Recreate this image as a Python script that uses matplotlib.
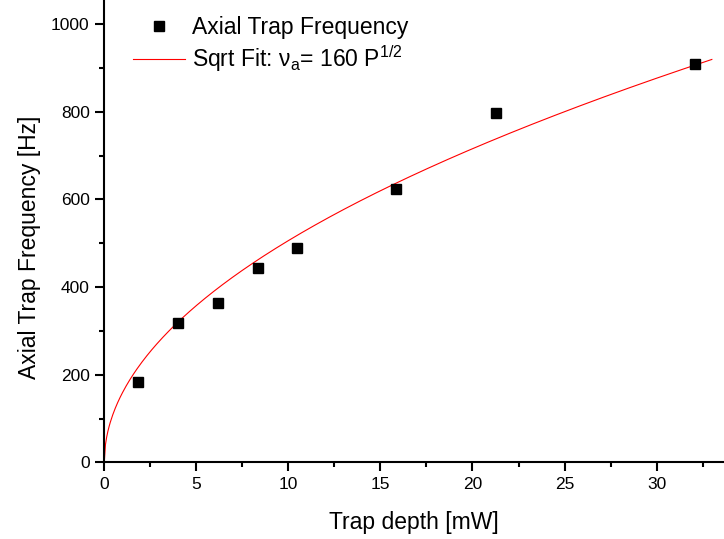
import numpy as np
import matplotlib
matplotlib.use("Agg")
import matplotlib.pyplot as plt
from matplotlib.ticker import MultipleLocator

plt.rcParams['font.family'] = ['Liberation Sans', 'DejaVu Sans']

# measured points
depth_mw = [1.83, 3.99, 6.16, 8.33, 10.47, 15.86, 21.26, 32.07]
freq_hz = [184, 319, 364, 443, 488, 624, 796, 909]

# sqrt fit nu_a = a * P^(1/2)
fit_coef = 160
fit_max_p = 33.0

fig = plt.figure(figsize=(7.24, 5.39), dpi=100)
ax = fig.add_axes([0.144, 0.142, 0.856, 0.858])

p = np.linspace(0, fit_max_p, 500)
ax.plot(p, fit_coef * np.sqrt(p), color='red', lw=0.8,
        label='Sqrt Fit: ν$_\\mathregular{a}$= 160 P$^\\mathregular{1/2}$')
ax.plot(depth_mw, freq_hz, ls='none', marker='s', ms=7.6, color='black',
        label='Axial Trap Frequency')

ax.set_xlim(0, 33.66)
ax.set_ylim(0, 1054.7)
ax.xaxis.set_major_locator(MultipleLocator(5))
ax.xaxis.set_minor_locator(MultipleLocator(2.5))
ax.yaxis.set_major_locator(MultipleLocator(200))
ax.yaxis.set_minor_locator(MultipleLocator(100))

for s in ['top', 'right']:
    ax.spines[s].set_visible(False)
for s in ['left', 'bottom']:
    ax.spines[s].set_linewidth(1.5)
ax.tick_params(which='major', direction='out', length=6.5, width=1.5, labelsize=12.5, pad=4)
ax.tick_params(which='minor', direction='out', length=3.6, width=1.5)

ax.set_xlabel('Trap depth [mW]', fontsize=16.5, labelpad=14)
ax.set_ylabel('Axial Trap Frequency [Hz]', fontsize=16.5)
ax.yaxis.set_label_coords(-0.102, 0.466)

h, l = ax.get_legend_handles_labels()
ax.legend([h[1], h[0]], [l[1], l[0]], loc='upper left', bbox_to_anchor=(133 / 724, 1 - 16 / 539),
          bbox_transform=fig.transFigure, frameon=False, fontsize=16.5, borderpad=0,
          handlelength=2.26, handletextpad=0.3, labelspacing=0.2, borderaxespad=0)

fig.savefig('out.png', dpi=100)
